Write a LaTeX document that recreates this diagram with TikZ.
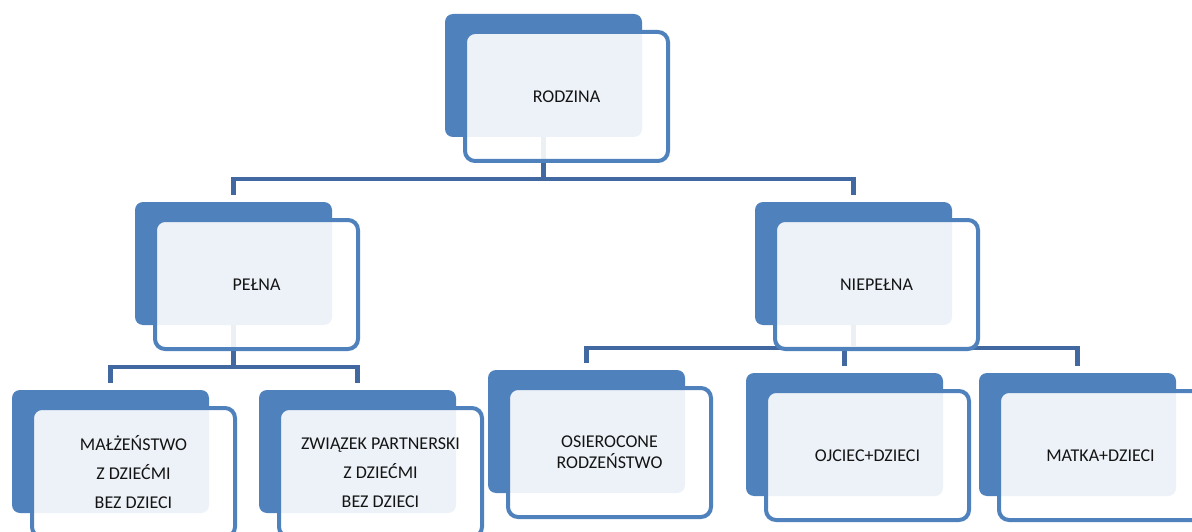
\documentclass[tikz,border=0pt]{standalone}
\usepackage{fontspec}
\setmainfont{Carlito}
\definecolor{boxblue}{RGB}{79,129,189}
\definecolor{connblue}{RGB}{65,104,160}
\definecolor{txt}{RGB}{20,20,20}
\pgfdeclarelayer{bg}
\pgfsetlayers{bg,main}
\begin{document}
\begin{tikzpicture}[x=1pt,y=-1pt,
  backbox/.style={fill=boxblue, draw=none, rounded corners=8pt, minimum width=197pt, minimum height=123pt, inner sep=0pt},
  frontbox/.style={draw=boxblue, line width=4pt, fill=white, fill opacity=0.9, text opacity=1, rounded corners=10pt, minimum width=203pt, minimum height=129pt, inner sep=0pt, align=center, text=txt, font=\fontsize{18}{21}\selectfont},
  conn/.style={draw=connblue, line width=4.5pt, line join=miter, line cap=butt}]
\useasboundingbox (0,0) rectangle (1192,532);
% back boxes (x0+98.5, y0+61.5)
\node[backbox] (rodB) at (543.5,75.5) {};
\node[backbox] (pelB) at (233.5,263.5) {};
\node[backbox] (niepB) at (853.5,263.5) {};
\node[backbox] (malB) at (110.5,451.5) {};
\node[backbox] (zwiB) at (357.5,451.5) {};
\node[backbox] (osiB) at (586.5,431.5) {};
\node[backbox] (ojcB) at (844.5,434.5) {};
\node[backbox] (matB) at (1077.5,434.5) {};
% front boxes (x0+121.5, y0+82.5)
\node[frontbox] (rod) at (566.5,96.5) {RODZINA};
\node[frontbox] (pel) at (256.5,284.5) {PEŁNA};
\node[frontbox] (niep) at (876.5,284.5) {NIEPEŁNA};
\node[frontbox] (mal) at (133.5,472.5) {MAŁŻEŃSTWO\\[8pt]Z DZIEĆMI\\[8pt]BEZ DZIECI};
\node[frontbox] (zwi) at (380.5,472.5) {ZWIĄZEK PARTNERSKI\\[8pt]Z DZIEĆMI\\[8pt]BEZ DZIECI};
\node[frontbox] (osi) at (609.5,452.5) {OSIEROCONE\\RODZEŃSTWO};
\node[frontbox] (ojc) at (867.5,455.5) {OJCIEC+DZIECI};
\node[frontbox] (mat) at (1100.5,455.5) {MATKA+DZIECI};
% connectors
\begin{pgfonlayer}{bg}
\draw[conn, shorten >=7pt] (rodB.south) -- ++(0,42) -| (pelB.north);
\draw[conn, shorten >=7pt] (rodB.south) -- ++(0,42) -| (niepB.north);
\draw[conn, shorten >=7pt] (pelB.south) -- ++(0,42) -| (malB.north);
\draw[conn, shorten >=7pt] (pelB.south) -- ++(0,42) -| (zwiB.north);
\draw[conn, shorten >=7pt] (niepB.south) -- ++(0,23) -| (osiB.north);
\draw[conn, shorten >=7pt] (niepB.south) -- ++(0,23) -| (ojcB.north);
\draw[conn, shorten >=7pt] (niepB.south) -- ++(0,23) -| (matB.north);
\end{pgfonlayer}
\end{tikzpicture}
\end{document}
